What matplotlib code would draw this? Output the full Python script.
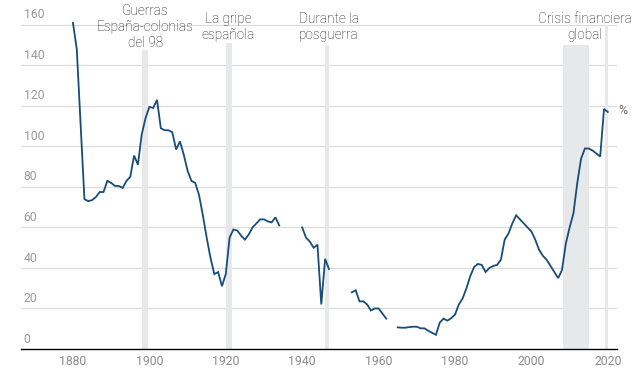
#!/usr/bin/env python
"""
Deuda publica de Espana sobre el PIB, 1880-2020, con periodos destacados.
"""
# import modules
import matplotlib
matplotlib.use('Agg')
import matplotlib.pyplot as plt
import matplotlib.transforms as mtransforms
import numpy as np

nan = np.nan

# data
years = list(range(1880, 2021))
debt = [
    161, 148, 111, 74, 73, 73.5, 75, 77.5, 77.5, 83,            # 1880-1889
    82, 80.5, 80.5, 79.5, 83, 85, 95.5, 91, 106, 114,           # 1890-1899
    119.5, 119, 123, 109, 108, 108, 107, 98.5, 102.5, 96,       # 1900-1909
    88, 83, 82, 76, 66, 55, 45, 37, 38, 31,                     # 1910-1919
    37, 55, 59, 58.5, 56, 54, 56.5, 60, 62, 64,                 # 1920-1929
    64, 63, 62.5, 65, 61, nan, nan, nan, nan, nan,              # 1930-1939
    60, 55, 53, 50, 51.5, 22, 44.5, 39.5, nan, nan,             # 1940-1949
    nan, nan, nan, 28, 29, 23.5, 23.5, 22, 19, 20,              # 1950-1959
    20, 17.5, 15, nan, nan, 10.7, 10.5, 10.5, 10.8, 11,         # 1960-1969
    11, 10.2, 10.2, 9, 8, 7, 13, 15, 14, 15.2,                  # 1970-1979
    17, 22, 25, 30, 36, 40.5, 42, 41.5, 38, 40,                 # 1980-1989
    41, 41.5, 44, 54, 57, 62, 66, 64, 62, 60,                   # 1990-1999
    58, 54, 49, 46, 44, 41, 38, 35, 39, 52,                     # 2000-2009
    60, 67, 82, 94, 99, 99, 98, 96.5, 95, 118.5,                # 2010-2019
    117,                                                        # 2020
]

# highlighted periods
band_start = [1898.2, 1920.0, 1946.0, 2008.2, 2019.3]
band_end = [1899.7, 1921.7, 1947.0, 2015.1, 2020.0]
band_top = [147.5, 151, 150, 150, 160]

event_labels = ['Guerras\nEspaña-colonias\ndel 98', 'La gripe\nespañola',
                'Durante la\nposguerra', 'Crisis financiera\nglobal']
event_x = [1898.9, 1920.6, 1946.9, 2014.0]
event_top = [170.5, 166.3, 166.3, 166.3]

y_ticks = [0, 20, 40, 60, 80, 100, 120, 140, 160]
x_ticks = [1880, 1900, 1920, 1940, 1960, 1980, 2000, 2020]


def main():
    plt.rcParams['font.family'] = ['Roboto', 'DejaVu Sans']

    fig = plt.figure(figsize=(6.4, 3.74), dpi=100)
    ax = fig.add_axes([21 / 640, 25 / 374, 596 / 640, 349 / 374])
    ax.set_xlim(1866.4, 2022.4)
    ax.set_ylim(0, 172.3)

    # shaded periods
    for x0, x1, top in zip(band_start, band_end, band_top):
        ax.fill_between([x0, x1], 0, top, color='#e7e8e9', lw=0, zorder=1)

    # gridlines
    for v in y_ticks[1:]:
        ax.axhline(v, color='#dcdcdc', lw=0.9, zorder=0)

    # y labels sit above the gridlines
    trans = mtransforms.offset_copy(ax.get_yaxis_transform(), fig=fig,
                                    x=1, y=2.5, units='points')
    for v in y_ticks:
        ax.text(0.002, v, str(v), transform=trans, ha='left', va='bottom',
                fontsize=8.8, color='#9a9a9a')

    ax.plot(years, debt, color='#174d78', lw=1.3, zorder=3,
            solid_joinstyle='miter')

    # event labels
    for x, top, lab in zip(event_x, event_top, event_labels):
        ax.text(x, top, lab, ha='center', va='top', fontsize=9.8,
                color='#1e1e1e', linespacing=1.2, fontweight='light')

    ax.text(2022.7, 117.5, '%', ha='left', va='center', fontsize=8.8,
            color='#666666', clip_on=False)

    # axes styling
    for side in ['top', 'right', 'left']:
        ax.spines[side].set_visible(False)
    ax.spines['bottom'].set_color('black')
    ax.spines['bottom'].set_linewidth(1.0)
    ax.set_yticks([])
    ax.set_xticks(x_ticks)
    ax.tick_params(axis='x', length=0, pad=4, labelsize=8.8,
                   labelcolor='#8a8a8a')
    ax.patch.set_alpha(0)

    plt.savefig('out.png', dpi=100)


if __name__ == '__main__':
    main()
